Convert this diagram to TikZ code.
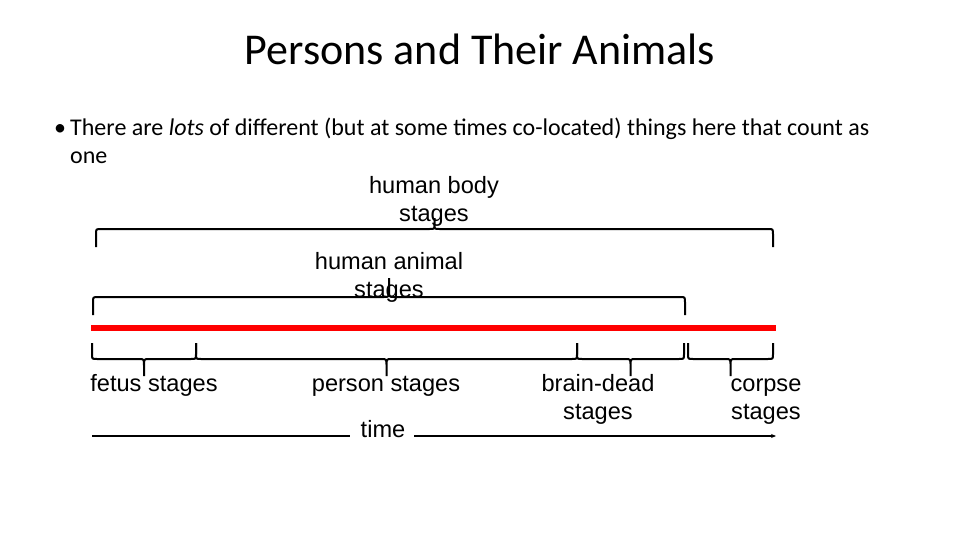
\documentclass[tikz,border=0pt]{standalone}
\usepackage{fontspec}
\setmainfont{Carlito}
\newfontfamily\arialfont{Liberation Sans}
\usetikzlibrary{arrows.meta}
\tikzset{
  lbl/.style={font=\arialfont\fontsize{23.6}{28}\selectfont, inner sep=0pt, align=center},
  brc/.style={line width=2pt},
}
% brace: left x, right x, y of the ends, y of the bar, y of the tip
\newcommand\lifebrace[5]{%
  \pgfmathsetmacro\bm{(#1+#2)/2}%
  \pgfmathsetmacro\bk{#4+0.3*(#3-#4)}%
  \pgfmathsetmacro\bt{#4+0.4*(#5-#4)}%
  \draw[brc] (#1,#3) -- (#1,\bk) .. controls (#1,#4) .. (#1+5,#4) -- (\bm-5,#4)
    .. controls (\bm,#4) .. (\bm,\bt) -- (\bm,#5) -- (\bm,\bt)
    .. controls (\bm,#4) .. (\bm+5,#4) -- (#2-5,#4) .. controls (#2,#4) .. (#2,\bk) -- (#2,#3);
}
\begin{document}
\begin{tikzpicture}[x=1pt, y=-1pt]
  \useasboundingbox (0,0) rectangle (960,540);
  % title and bullet
  \node[anchor=base, inner sep=0pt, font=\fontsize{44}{50}\selectfont] (title) at (480,65) {Persons and Their Animals};
  \node[anchor=base west, inner sep=0pt, align=left, font=\fontsize{24}{28}\selectfont] (point) at (70,164)
    {There are \textit{lots} of different (but at some times co-located) things here that count as\\one};
  \node[anchor=base, inner sep=0pt, font=\fontsize{24}{28}\selectfont] (dot) at (60,136) {\textbullet};
  % upper braces
  \lifebrace{96}{773}{247}{229}{218}
  \node[lbl, anchor=base] (body) at (434,221) {human body\\stages};
  \lifebrace{93}{685}{315}{297}{278}
  \node[lbl, anchor=base] (animal) at (389,297) {human animal\\stages};
  % the red life line
  \draw[red, line width=6pt] (91,328) -- (776,328);
  % lower braces
  \lifebrace{92}{196}{343}{359}{376}
  \lifebrace{196}{577}{343}{359}{376}
  \lifebrace{577}{684}{343}{359}{376}
  \lifebrace{688}{773}{343}{359}{376}
  \node[lbl, anchor=base] (fetus) at (154,391) {fetus stages};
  \node[lbl, anchor=base] (person) at (386,391) {person stages};
  \node[lbl, anchor=base] (brain) at (598,419) {brain-dead\\stages};
  \node[lbl, anchor=base] (corpse) at (766,419) {corpse\\stages};
  % time axis
  \node[lbl, anchor=base] (time) at (383,437) {time};
  \coordinate (t0) at (92,436);
  \coordinate (t1) at (776,436);
  \draw[line width=1.5pt] (t0) -- (350,436);
  \draw[line width=1.5pt, -{Stealth[length=5pt,width=4pt]}] (414,436) -- (t1);
\end{tikzpicture}
\end{document}
